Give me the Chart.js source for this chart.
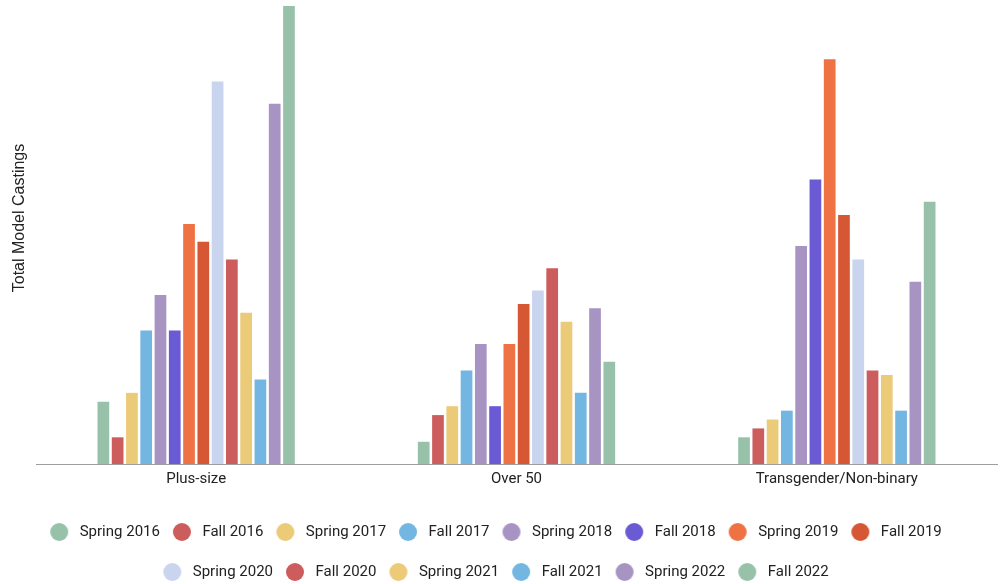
<!DOCTYPE html>
<html>
<head>
<meta charset="utf-8">
<script src="https://cdn.jsdelivr.net/npm/chart.js@4"></script>
<style>
  html, body { margin: 0; padding: 0; background: #ffffff; }
  canvas { display: block; }
</style>
</head>
<body>
<canvas id="chart" width="1000" height="584"></canvas>
<script>
// ---- data ----
const categories = ['Plus-size', 'Over 50', 'Transgender/Non-binary'];
const seasons = ['Spring 2016', 'Fall 2016', 'Spring 2017', 'Fall 2017', 'Spring 2018', 'Fall 2018', 'Spring 2019',
                 'Fall 2019', 'Spring 2020', 'Fall 2020', 'Spring 2021', 'Fall 2021', 'Spring 2022', 'Fall 2022'];
const plusSize       = [14, 6, 16, 30, 38, 30, 54, 50, 86, 46, 34, 19, 81, 103];
const over50         = [5, 11, 13, 21, 27, 13, 27, 36, 39, 44, 32, 16, 35, 23];
const transNonBinary = [6, 8, 10, 12, 49, 64, 91, 56, 46, 21, 20, 12, 41, 59];
const yAxisTitle = 'Total Model Castings';
const yMax = 103;

// ---- styles ----
const seasonColors = ['#97c1a9', '#cd5c5c', '#ebca78', '#74b6e2', '#a794c3', '#6a5ad4', '#ef7244',
                      '#d65733', '#c9d4ee', '#cd5c5c', '#ebca78', '#74b6e2', '#a794c3', '#97c1a9'];

const datasets = seasons.map((name, i) => ({
  label: name,
  data: [plusSize[i], over50[i], transNonBinary[i]],
  backgroundColor: seasonColors[i],
  borderWidth: 0,
  categoryPercentage: 0.624,
  barPercentage: 0.82
}));

// legend marker images: circle offset to the left of the box centre
function makeDot(color) {
  const c = document.createElement('canvas');
  c.width = 40; c.height = 20;
  const g = c.getContext('2d');
  g.fillStyle = color;
  g.beginPath();
  g.arc(12, 10, 9, 0, Math.PI * 2);
  g.fill();
  return c;
}
const dots = seasonColors.map(makeDot);

const yTitlePlugin = {
  id: 'yTitle',
  afterDraw(chart) {
    const ctx = chart.ctx;
    ctx.save();
    ctx.translate(20, 218);
    ctx.rotate(-Math.PI / 2);
    ctx.font = '16px "Liberation Sans", Arial, sans-serif';
    ctx.fillStyle = '#222222';
    ctx.textAlign = 'center';
    ctx.textBaseline = 'middle';
    ctx.fillText(yAxisTitle, 0, 0);
    ctx.restore();
  }
};

new Chart(document.getElementById('chart'), {
  type: 'bar',
  data: { labels: categories, datasets },
  plugins: [yTitlePlugin],
  options: {
    responsive: false,
    animation: false,
    layout: { padding: { left: 7, right: 3, top: 6, bottom: -5.5 } },
    scales: {
      x: {
        grid: { display: false, drawTicks: false },
        border: { display: true, color: '#9e9e9e', width: 1 },
        ticks: {
          padding: 6,
          maxRotation: 0,
          color: '#222222',
          font: { family: 'Roboto', size: 15 }
        },
        afterFit(scale) { scale.height = 35.5; }
      },
      y: {
        display: true,
        min: 0,
        max: yMax,
        grid: { display: false, drawTicks: false },
        border: { display: false },
        ticks: { display: false },
        afterFit(scale) { scale.width = 29; }
      }
    },
    plugins: {
      tooltip: { enabled: false },
      legend: {
        position: 'bottom',
        labels: {
          usePointStyle: true,
          boxWidth: 10,
          boxHeight: 15,
          padding: 25,
          color: '#222222',
          font: { family: 'Roboto', size: 15 },
          generateLabels(chart) {
            const items = Chart.defaults.plugins.legend.labels.generateLabels(chart);
            items.forEach((it, i) => { it.pointStyle = dots[i]; });
            return items;
          }
        }
      }
    }
  }
});
</script>
</body>
</html>
